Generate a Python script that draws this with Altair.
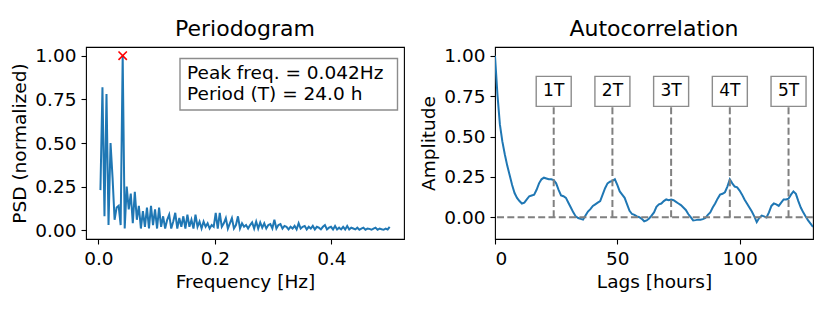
import altair as alt
import pandas as pd

FONT = "DejaVu Sans"
BLUE = "#1f77b4"
GRAY = "#808080"

# ---------------- data ----------------
N_HOURS = 288  # length of the hourly series -> frequency step 1/288 Hz
psd = [
    0.23, 0.82, 0.08, 0.78, 0.03, 0.50, 0.30, 0.06, 0.13, 0.14,
    0.03, 1.00, 0.01, 0.25, 0.12, 0.21, 0.04, 0.22, 0.06, 0.14,
    0.01, 0.11, 0.02, 0.13, 0.01, 0.14, 0.03, 0.12, 0.01, 0.13,
    0.02, 0.08, 0.01, 0.06, 0.09, 0.01, 0.05, 0.10, 0.01, 0.07,
    0.02, 0.08, 0.01, 0.09, 0.02, 0.06, 0.01, 0.09, 0.02, 0.05,
    0.01, 0.05, 0.02, 0.04, 0.01, 0.03, 0.02, 0.10, 0.01, 0.10,
    0.02, 0.04, 0.07, 0.01, 0.04, 0.07, 0.01, 0.03, 0.08, 0.01,
    0.04, 0.02, 0.03, 0.01, 0.03, 0.045, 0.01, 0.05, 0.01, 0.045,
    0.015, 0.04, 0.01, 0.03, 0.035, 0.01, 0.06, 0.01, 0.03, 0.035,
    0.01, 0.025, 0.02, 0.005, 0.02, 0.01, 0.025, 0.005, 0.04, 0.01,
    0.02, 0.025, 0.005, 0.02, 0.01, 0.025, 0.005, 0.02, 0.015, 0.005,
    0.02, 0.03, 0.005, 0.015, 0.02, 0.005, 0.025, 0.005, 0.015, 0.005,
    0.02, 0.005, 0.025, 0.005, 0.015, 0.01, 0.005, 0.015, 0.003, 0.01,
    0.015, 0.003, 0.01, 0.008, 0.003, 0.01, 0.015, 0.003, 0.01, 0.006,
    0.003, 0.01, 0.005, 0.02,
]
freq = [k / N_HOURS for k in range(1, len(psd) + 1)]

peak_freq = [1 / 24]
peak_psd = [1.0]
box_lines = ["Peak freq. = 0.042Hz", "Period (T) = 24.0 h"]

acf = [
    1.00, 0.76, 0.575, 0.47, 0.39, 0.32, 0.26, 0.20, 0.15, 0.12,
    0.10, 0.085, 0.09, 0.11, 0.13, 0.135, 0.14, 0.17, 0.21, 0.235,
    0.245, 0.24, 0.235, 0.235, 0.23, 0.21, 0.17, 0.135, 0.13, 0.12,
    0.09, 0.06, 0.03, 0.005, -0.005, -0.01, -0.015, 0.01, 0.035, 0.05,
    0.07, 0.08, 0.09, 0.10, 0.14, 0.18, 0.21, 0.22, 0.225, 0.235,
    0.20, 0.16, 0.14, 0.12, 0.08, 0.04, 0.02, 0.015, 0.005, 0.0,
    -0.01, -0.025, -0.02, -0.008, 0.01, 0.03, 0.065, 0.08, 0.085, 0.10,
    0.11, 0.105, 0.11, 0.105, 0.095, 0.085, 0.075, 0.06, 0.045, 0.02,
    0.0, -0.02, -0.018, -0.015, -0.015, -0.012, -0.005, 0.015, 0.03, 0.06,
    0.085, 0.115, 0.14, 0.145, 0.155, 0.19, 0.235, 0.21, 0.19, 0.185,
    0.165, 0.14, 0.11, 0.085, 0.06, 0.035, 0.005, -0.03, -0.005, 0.01,
    0.005, -0.002, 0.03, 0.07, 0.085, 0.08, 0.07, 0.09, 0.11, 0.11,
    0.115, 0.14, 0.16, 0.145, 0.10, 0.06, 0.03, 0.005, -0.02, -0.04,
    -0.06,
]
lags = list(range(len(acf)))

period_labels = ["1T", "2T", "3T", "4T", "5T"]
period_lags = [24, 48, 72, 96, 120]
label_level = 0.78

W, H = 318, 192

# ---------------- periodogram ----------------
df_psd = pd.DataFrame({"freq": freq, "psd": psd})
df_peak = pd.DataFrame({"freq": peak_freq, "psd": peak_psd})

xs1 = alt.Scale(domain=[-0.0213, 0.5246], nice=False, zero=False)
ys1 = alt.Scale(domain=[-0.05, 1.05], nice=False, zero=False)

psd_line = alt.Chart(df_psd).mark_line(color=BLUE, strokeWidth=2).encode(
    x=alt.X("freq:Q", scale=xs1,
            axis=alt.Axis(values=[0, 0.2, 0.4], format=".1f", title="Frequency [Hz]")),
    y=alt.Y("psd:Q", scale=ys1,
            axis=alt.Axis(values=[0, 0.25, 0.5, 0.75, 1.0], format=".2f",
                          title="PSD (normalized)")),
)
peak_mark = alt.Chart(df_peak).mark_point(
    shape="M-1,-1L1,1M-1,1L1,-1", size=70, color="red", filled=False,
    strokeWidth=1.6, opacity=1,
).encode(x="freq:Q", y="psd:Q")

one = pd.DataFrame({"a": [0]})
box = alt.Chart(one).mark_rect(fill="white", stroke="#8c8c8c", strokeWidth=1.4).encode(
    x=alt.value(94), x2=alt.value(311.5), y=alt.value(11.5), y2=alt.value(63)
)
box_text = [
    alt.Chart(pd.DataFrame({"t": [line]})).mark_text(
        align="left", baseline="alphabetic", font=FONT, fontSize=18.5, color="black"
    ).encode(x=alt.value(101), y=alt.value(31.5 + 21 * i), text="t:N")
    for i, line in enumerate(box_lines)
]

TITLE = dict(font=FONT, fontSize=22, fontWeight="normal", color="black", offset=6)
left = alt.layer(psd_line, peak_mark, box, *box_text).properties(
    width=W, height=H, title=alt.TitleParams("Periodogram", **TITLE),
)

# ---------------- autocorrelation ----------------
df_acf = pd.DataFrame({"lag": lags, "acf": acf})
df_per = pd.DataFrame({"lag": period_lags, "label": period_labels})

xs2 = alt.Scale(domain=[0, 130], nice=False, zero=False)
ys2 = alt.Scale(domain=[-0.135, 1.055], nice=False, zero=False)

zero_rule = alt.Chart(one).mark_rule(color=GRAY, strokeWidth=2, strokeDash=[7, 3.3]).encode(
    y=alt.datum(0, scale=ys2)
)
per_rules = alt.Chart(df_per).mark_rule(color=GRAY, strokeWidth=2, strokeDash=[7, 3.3]).encode(
    x=alt.X("lag:Q", scale=xs2), y=alt.datum(0), y2=alt.datum(label_level)
)
acf_line = alt.Chart(df_acf).mark_line(color=BLUE, strokeWidth=2, clip=True).encode(
    x=alt.X("lag:Q", scale=xs2,
            axis=alt.Axis(values=[0, 50, 100], format="d", title="Lags [hours]")),
    y=alt.Y("acf:Q", scale=ys2,
            axis=alt.Axis(values=[0, 0.25, 0.5, 0.75, 1.0], format=".2f", title="Amplitude")),
)
per_boxes = alt.Chart(df_per).mark_point(
    shape="M-1,-0.857L1,-0.857L1,0.857L-1,0.857Z", size=35 * 35, filled=True,
    fill="white", stroke="#8c8c8c", strokeWidth=1.4, opacity=1,
).encode(x="lag:Q", y=alt.datum(label_level))
per_text = alt.Chart(df_per).mark_text(
    font=FONT, fontSize=17, color="black", align="center", baseline="middle"
).encode(x="lag:Q", y=alt.datum(label_level), text="label:N")

right = alt.layer(acf_line, zero_rule, per_rules, per_boxes, per_text).properties(
    width=W, height=H, title=alt.TitleParams("Autocorrelation", **TITLE),
)

chart = alt.hconcat(left, right, spacing=14).properties(
    padding={"left": 2, "top": 9, "right": 0, "bottom": 0}
).configure_view(
    stroke="black", strokeWidth=1.1
).configure_axis(
    domain=False, grid=False,
    tickColor="black", tickSize=5, tickWidth=1.1,
    labelFont=FONT, labelFontSize=18.5, labelColor="black", labelPadding=5,
    titleFont=FONT, titleFontSize=18.5, titleFontWeight="normal", titleColor="black",
    titlePadding=5,
).configure_concat(spacing=14)

chart.save("out.html", embed_options={"renderer": "svg", "actions": False})
